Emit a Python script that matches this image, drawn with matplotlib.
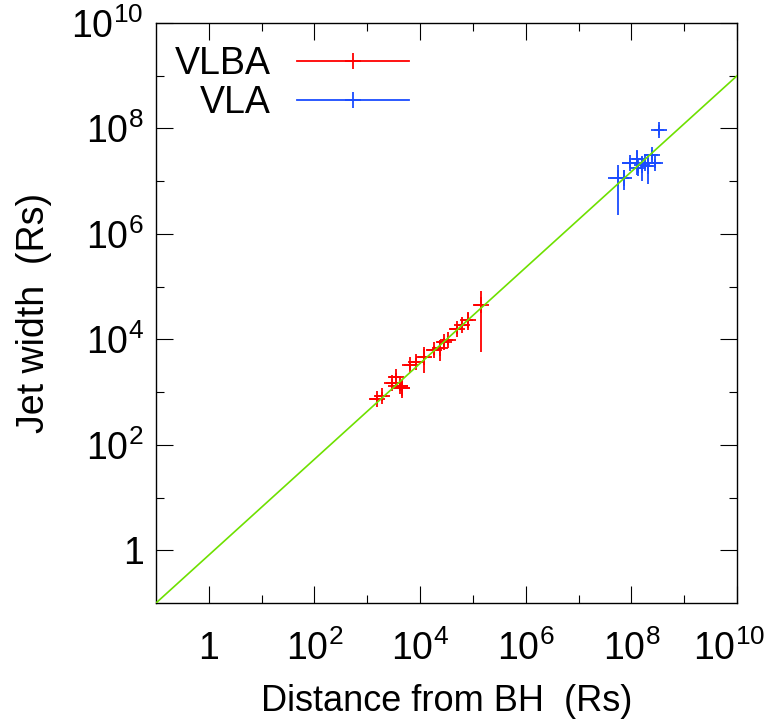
import matplotlib
matplotlib.use('Agg')
import matplotlib.pyplot as plt
import matplotlib.transforms as mtransforms
import numpy as np
from matplotlib.lines import Line2D
from matplotlib.ticker import FixedLocator, FuncFormatter, NullFormatter

plt.rcParams['font.family'] = ['Liberation Sans', 'DejaVu Sans']
plt.rcParams['mathtext.fontset'] = 'custom'
plt.rcParams['mathtext.rm'] = 'Liberation Sans'
plt.rcParams['mathtext.default'] = 'regular'

# VLBA: distance from BH (Rs), jet width (Rs), relative errors
vlba_z = np.array([1.5e3, 1.9e3, 3.0e3, 3.5e3, 4.2e3, 4.6e3, 6.5e3, 8.3e3, 1.2e4,
                   1.8e4, 2.4e4, 2.8e4, 3.4e4, 5.0e4, 6.3e4, 8.1e4, 1.4e5])
vlba_w = np.array([7.4e2, 8.5e2, 1.5e3, 1.9e3, 1.3e3, 1.2e3, 3.3e3, 3.7e3, 4.7e3,
                   6.3e3, 6.9e3, 8.9e3, 9.8e3, 1.6e4, 1.9e4, 2.3e4, 4.5e4])
vlba_xerr = np.array([0.25, 0.25, 0.25, 0.25, 0.4, 0.4, 0.25, 0.25, 0.25,
                      0.25, 0.25, 0.25, 0.25, 0.25, 0.25, 0.25, 0.25])
vlba_yerr = np.array([0.2, 0.2, 0.2, 0.2, 0.2, 0.35, 0.2, 0.2, 0.5,
                      0.2, 0.43, 0.2, 0.2, 0.2, 0.2, 0.35, 0.87])

# VLA
vla_z = np.array([3.4e8, 5.6e7, 7.2e7, 9.5e7, 1.3e8, 1.35e8, 1.6e8, 1.8e8, 2.1e8, 2.45e8, 2.8e8])
vla_w = np.array([9.5e7, 1.15e7, 1.15e7, 2.2e7, 2.6e7, 1.8e7, 2.0e7, 2.2e7, 1.95e7, 3.2e7, 2.2e7])
vla_xerr = np.array([0.2, 0.35, 0.25, 0.3, 0.2, 0.2, 0.2, 0.2, 0.2, 0.3, 0.3])
vla_yerr = np.array([0.2, 0.8, 0.4, 0.2, 0.5, 0.2, 0.5, 0.2, 0.55, 0.2, 0.2])

# power-law fit W = norm * z^slope
fit_norm = 0.81
fit_slope = 0.909

red = '#ff0000'
blue = '#1a4cff'
green = '#6ee000'
fs = 27

fig = plt.figure(figsize=(7.67, 7.23), dpi=100)
ax = fig.add_axes([0.2034, 0.166, 0.9609 - 0.2034, 0.9682 - 0.166])

ax.errorbar(vlba_z, vlba_w, xerr=vlba_xerr * vlba_z, yerr=vlba_yerr * vlba_w,
            fmt='+', color=red, ms=12, mew=1.3, elinewidth=1.3, capsize=0)
ax.errorbar(vla_z, vla_w, xerr=vla_xerr * vla_z, yerr=vla_yerr * vla_w,
            fmt='+', color=blue, ms=12, mew=1.3, elinewidth=1.3, capsize=0)

zz = np.logspace(-1, 10, 200)
ax.plot(zz, fit_norm * zz ** fit_slope, color=green, lw=1.2, zorder=5)

ax.set_xscale('log')
ax.set_yscale('log')
ax.set_xlim(1e-1, 1e10)
ax.set_ylim(1e-1, 1e10)

major = [10.0 ** k for k in range(0, 11, 2)]
minor = [10.0 ** k for k in range(1, 10, 2)]


def fmt(v, pos):
    k = int(round(np.log10(v)))
    return '1' if k == 0 else r'$10^{%d}$' % k


for axis in (ax.xaxis, ax.yaxis):
    axis.set_major_locator(FixedLocator(major))
    axis.set_minor_locator(FixedLocator(minor))
    axis.set_major_formatter(FuncFormatter(fmt))
    axis.set_minor_formatter(NullFormatter())

ax.tick_params(which='both', direction='in', top=True, right=True, width=0.8)
ax.tick_params(which='major', length=12)
ax.tick_params(which='minor', length=6)
ax.tick_params(axis='x', which='major', labelsize=fs, pad=20)
ax.tick_params(axis='y', which='major', labelsize=fs, pad=9)
for s in ax.spines.values():
    s.set_linewidth(1.0)

# keep the last x label inside the figure
last = ax.get_xticklabels()[-1]
last.set_transform(last.get_transform() +
                   mtransforms.ScaledTranslation(-8 / 100, 0, fig.dpi_scale_trans))

ax.set_xlabel('Distance from BH  (Rs)', fontsize=26, labelpad=11)
ax.set_ylabel('Jet width  (Rs)', fontsize=fs, labelpad=14)

handles = [Line2D([], [], color=red, marker='+', ms=12, mew=1.3, lw=1.3),
           Line2D([], [], color=blue, marker='+', ms=12, mew=1.3, lw=1.3)]
ax.legend(handles, ['VLBA', 'VLA'], loc='upper left', bbox_to_anchor=(0.032, 0.96),
          frameon=False, fontsize=fs, markerfirst=False, handlelength=3.0,
          handletextpad=0.7, labelspacing=0.08, borderpad=0, borderaxespad=0)

fig.savefig('out.png', dpi=100)
